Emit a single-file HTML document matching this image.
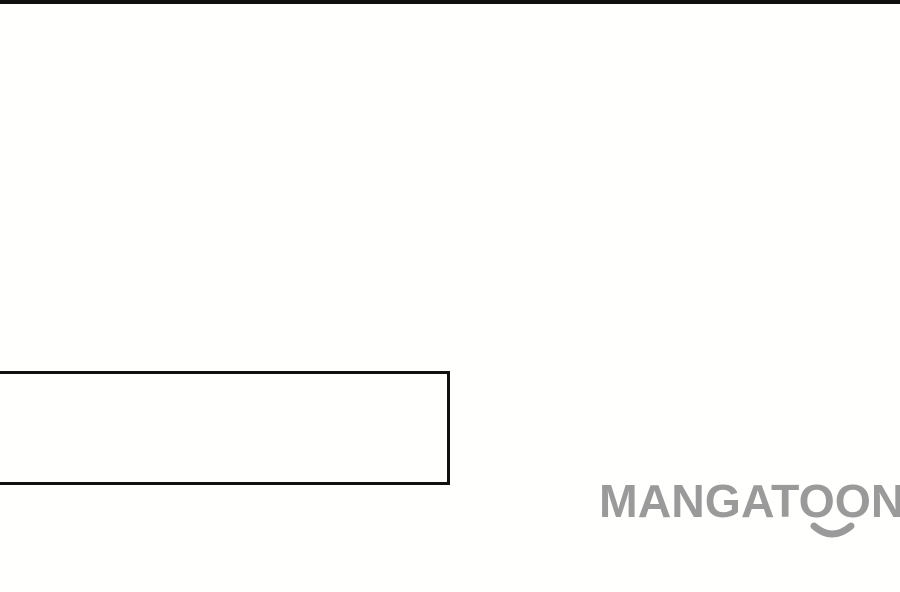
<!DOCTYPE html>
<html><head><style>
html,body{margin:0;padding:0;}
body{width:900px;height:592px;background:#fffffd;position:relative;overflow:hidden;font-family:"Liberation Sans",sans-serif;}
.top{position:absolute;left:0;top:0;width:900px;height:4px;background:#111;}
.box{position:absolute;left:-4px;top:371px;width:448px;height:108px;border:3px solid #111;background:#fffffd;}
.logo{position:absolute;left:599px;top:476px;font-size:46px;font-weight:bold;color:#9a9a9a;line-height:50px;white-space:nowrap;transform:scaleX(1.01);transform-origin:left;}
</style></head><body>
<div class="top"></div>
<div class="box"></div>
<div class="logo">MANGATOON</div>
<svg style="position:absolute;left:0;top:0" width="900" height="592">
<path d="M814 526 Q832 542 851 526" stroke="#9a9a9a" stroke-width="7" fill="none" stroke-linecap="round"/>
</svg>
</body></html>
